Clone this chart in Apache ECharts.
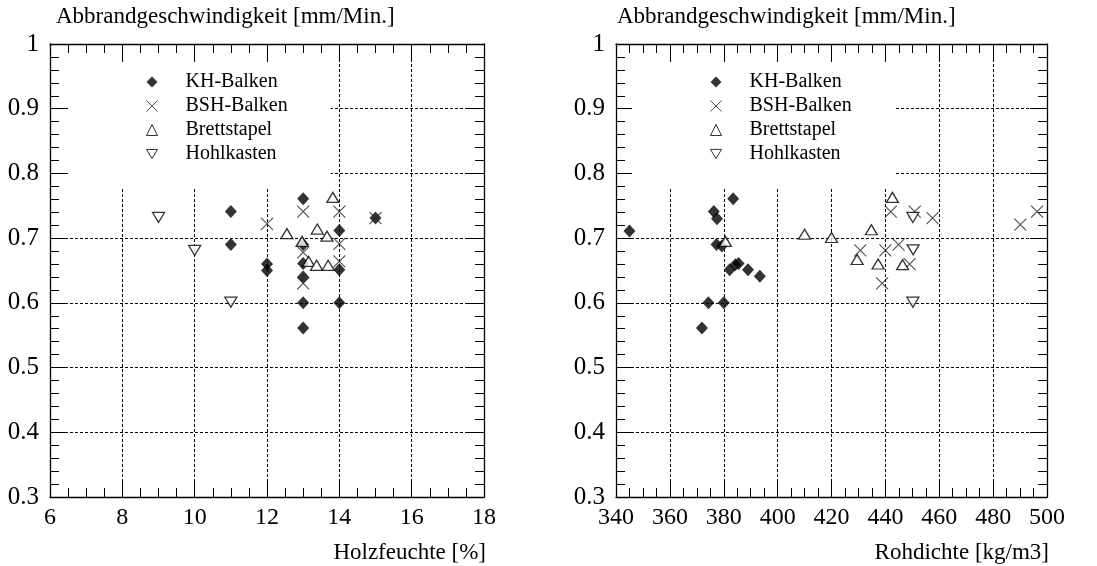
<!DOCTYPE html>
<html><head><meta charset="utf-8">
<script src="https://cdn.jsdelivr.net/npm/echarts@6/dist/echarts.min.js"></script>
<style>html,body{margin:0;padding:0;background:#fff}#c{width:1097px;height:566px}</style>
</head><body><div id="c"></div>
<script>
const seriesNames = ['KH-Balken', 'BSH-Balken', 'Brettstapel', 'Hohlkasten'];
const yTitle = 'Abbrandgeschwindigkeit [mm/Min.]';
const xTitleLeft = 'Holzfeuchte [%]';
const xTitleRight = 'Rohdichte [kg/m3]';
const yTickLabels = ['0.3', '0.4', '0.5', '0.6', '0.7', '0.8', '0.9', '1'];
const xTickLabelsLeft = ['6', '8', '10', '12', '14', '16', '18'];
const xTickLabelsRight = ['340', '360', '380', '400', '420', '440', '460', '480', '500'];

// Left panel: Holzfeuchte [%]
const khMoisture = [11, 11, 12, 12, 13, 13, 13, 13, 13, 13, 14, 14, 14, 15];
const khRateM = [0.741, 0.69, 0.66, 0.65, 0.761, 0.69, 0.661, 0.64, 0.60, 0.561, 0.712, 0.651, 0.60, 0.731];
const bshMoisture = [12, 13, 13, 13, 14, 14, 14, 15];
const bshRateM = [0.722, 0.741, 0.678, 0.63, 0.741, 0.691, 0.664, 0.731];
const bstMoisture = [12.55, 12.97, 13.15, 13.37, 13.69, 13.82, 13.39, 13.66];
const bstRateM = [0.707, 0.695, 0.664, 0.658, 0.658, 0.763, 0.714, 0.703];
const hkMoisture = [9, 10, 11];
const hkRateM = [0.732, 0.681, 0.601];

// Right panel: Rohdichte [kg/m3]
const khDensity = [345, 383.5, 376.3, 377.5, 377.3, 379.3, 382.2, 384.3, 385.5, 389, 393.4, 374.3, 380, 371.9];
const khRateD = [0.711, 0.761, 0.741, 0.73, 0.69, 0.688, 0.651, 0.659, 0.661, 0.651, 0.641, 0.60, 0.60, 0.561];
const bshDensity = [442, 450.9, 457.5, 444.9, 440, 430.7, 449, 438.8, 490.1, 496.3];
const bshRateD = [0.741, 0.741, 0.731, 0.69, 0.681, 0.681, 0.66, 0.63, 0.721, 0.741];
const bstDensity = [380.6, 410, 420, 434.8, 442.6, 429.5, 437.3, 446.4];
const bstRateD = [0.695, 0.706, 0.701, 0.713, 0.763, 0.667, 0.66, 0.659];
const hkDensity = [450.2, 450.3, 450.2];
const hkRateD = [0.732, 0.682, 0.601];

const FONT = 'Liberation Serif';
const zip = (a, b) => a.map((v, i) => [v, b[i]]);

const gridsPx = [
  { left: 50, top: 44, width: 434, height: 453 },
  { left: 616, top: 44, width: 431, height: 453 }
];

function xAxisPair(g, min, max, interval, labels) {
  const base = {
    gridIndex: g, type: 'value', min: min, max: max, interval: interval,
    axisLine: { show: true, onZero: false, lineStyle: { color: '#000', width: 1.3 } },
    axisTick: { show: true, inside: true, length: 17, lineStyle: { color: '#000', width: 1 } },
    minorTick: { show: true, splitNumber: 4, length: 9, lineStyle: { color: '#000', width: 1 } }
  };
  return [
    Object.assign({}, base, {
      position: 'bottom',
      axisLabel: { color: '#000', fontFamily: FONT, fontSize: 24, margin: 9,
        formatter: (v, i) => labels[i] },
      splitLine: { show: true, lineStyle: { color: '#000', width: 1, type: [3, 2] } }
    }),
    Object.assign({}, base, { position: 'top', axisLabel: { show: false }, splitLine: { show: false } })
  ];
}
function yAxisPair(g) {
  const base = {
    gridIndex: g, type: 'value', min: 0.3, max: 1, interval: 0.1,
    axisLine: { show: true, onZero: false, lineStyle: { color: '#000', width: 1.3 } },
    axisTick: { show: true, inside: true, length: 17, lineStyle: { color: '#000', width: 1 } },
    minorTick: { show: true, splitNumber: 5, length: 9, lineStyle: { color: '#000', width: 1 } }
  };
  return [
    Object.assign({}, base, {
      position: 'left',
      axisLabel: { color: '#000', fontFamily: FONT, fontSize: 25, margin: 11,
        formatter: (v, i) => yTickLabels[i] },
      splitLine: { show: true, lineStyle: { color: '#000', width: 1, type: [3, 2] } }
    }),
    Object.assign({}, base, { position: 'right', axisLabel: { show: false }, splitLine: { show: false } })
  ];
}

const crossPath = 'path://M0,0L10,10M10,0L0,10';
const downTriPath = 'path://M0,0L12,0L6,10Z';
function makeSeries(axisIdx, sets) {
  const styles = [
    { symbol: 'diamond', symbolSize: [12, 13], itemStyle: { color: '#000' } },
    { symbol: crossPath, symbolSize: 12, itemStyle: { color: 'none', borderColor: '#222', borderWidth: 1.1 } },
    { symbol: 'triangle', symbolSize: [12, 10], itemStyle: { color: '#fff', borderColor: '#000', borderWidth: 1.3 } },
    { symbol: downTriPath, symbolSize: [12, 10], itemStyle: { color: '#fff', borderColor: '#000', borderWidth: 1.3 } }
  ];
  return sets.map((d, k) => Object.assign({
    type: 'scatter', name: seriesNames[k], xAxisIndex: axisIdx, yAxisIndex: axisIdx,
    data: d, emphasis: { disabled: true }, silent: true, z: 6
  }, styles[k]));
}

function legendFor(left) {
  return {
    data: seriesNames, orient: 'vertical', left: left, top: 62,
    padding: [10, 43, 24, 76], itemWidth: 11, itemHeight: 11, itemGap: 4,
    backgroundColor: '#fff', selectedMode: false,
    itemStyle: { borderWidth: 1 },
    textStyle: { fontFamily: FONT, fontSize: 20, color: '#000', lineHeight: 19, padding: [0, 0, 0, 23] }
  };
}

const titleStyle = { fontFamily: FONT, fontSize: 23, fontWeight: 'normal', color: '#000' };

const option = {
  animation: false,
  backgroundColor: '#fff',
  title: [
    { text: yTitle, left: 56, top: 5, padding: 0, textStyle: titleStyle },
    { text: yTitle, left: 617, top: 5, padding: 0, textStyle: titleStyle },
    { text: xTitleLeft, right: 1097 - 486, top: 541, padding: 0, textStyle: titleStyle },
    { text: xTitleRight, right: 1097 - 1049, top: 541, padding: 0, textStyle: titleStyle }
  ],
  legend: [legendFor(68), legendFor(632)],
  grid: gridsPx.map(g => Object.assign({ outerBoundsMode: 'none', containLabel: false }, g)),
  xAxis: [].concat(xAxisPair(0, 6, 18, 2, xTickLabelsLeft), xAxisPair(1, 340, 500, 20, xTickLabelsRight)),
  yAxis: [].concat(yAxisPair(0), yAxisPair(1)),
  series: [].concat(
    makeSeries(0, [zip(khMoisture, khRateM), zip(bshMoisture, bshRateM), zip(bstMoisture, bstRateM), zip(hkMoisture, hkRateM)]),
    makeSeries(2, [zip(khDensity, khRateD), zip(bshDensity, bshRateD), zip(bstDensity, bstRateD), zip(hkDensity, hkRateD)])
  )
};
option.series.forEach(s => { if (s.xAxisIndex === 2) { s.yAxisIndex = 2; } });

const chart = echarts.init(document.getElementById('c'), null, { renderer: 'canvas' });
chart.setOption(option);
</script>
</body></html>
